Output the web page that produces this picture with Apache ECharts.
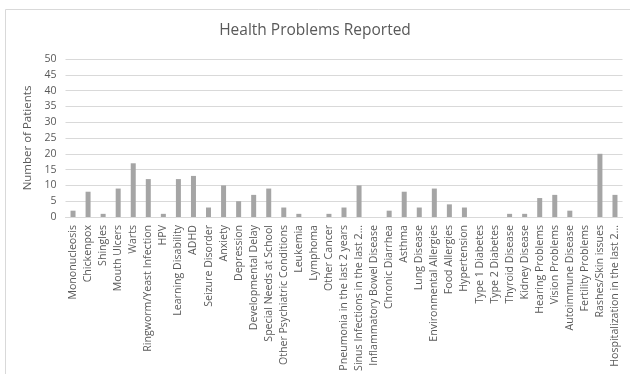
<!DOCTYPE html>
<html>
<head>
<meta charset="utf-8">
<script src="https://cdn.jsdelivr.net/npm/echarts@6/dist/echarts.min.js"></script>
<style>
html,body{margin:0;padding:0;background:#fff;}
#chart{width:630px;height:374px;}
</style>
</head>
<body>
<div id="chart"></div>
<script>
// Reported health problems and patient counts
const categories = [
  'Mononucleosis', 'Chickenpox', 'Shingles', 'Mouth Ulcers', 'Warts',
  'Ringworm/Yeast Infection', 'HPV', 'Learning Disability', 'ADHD',
  'Seizure Disorder', 'Anxiety', 'Depression', 'Developmental Delay',
  'Special Needs at School', 'Other Psychiatric Conditions', 'Leukemia',
  'Lymphoma', 'Other Cancer', 'Pneumonia in the last 2 years',
  'Sinus Infections in the last 2...', 'Inflammatory Bowel Disease',
  'Chronic Diarrhea', 'Asthma', 'Lung Disease', 'Environmental Allergies',
  'Food Allergies', 'Hypertension', 'Type 1 Diabetes', 'Type 2 Diabetes',
  'Thyroid Disease', 'Kidney Disease', 'Hearing Problems', 'Vision Problems',
  'Autoimmune Disease', 'Fertility Problems', 'Rashes/Skin issues',
  'Hospitalization in the last 2...'
];
const patients = [
  2, 8, 1, 9, 17,
  12, 1, 12, 13,
  3, 10, 5, 7,
  9, 3, 1,
  0, 1, 3,
  10, 0,
  2, 8, 3, 9,
  4, 3, 0, 0,
  1, 1, 6, 7,
  2, 0, 20,
  7
];
const yTicks = { min: 0, max: 50, step: 5 };

const chart = echarts.init(document.getElementById('chart'), null, { renderer: 'canvas' });
const textColor = '#595959';
const font = '"Open Sans", "Liberation Sans", sans-serif';

chart.setOption({
  animation: false,
  backgroundColor: '#ffffff',
  graphic: [{
    type: 'rect',
    shape: { x: 5.5, y: 9.5, width: 700, height: 500 },
    style: { fill: 'none', stroke: '#d9d9d9', lineWidth: 1 },
    silent: true
  }],
  title: {
    text: 'Health Problems Reported',
    left: 'center',
    top: 18,
    textStyle: { color: textColor, fontSize: 15.5, fontWeight: 'normal', fontFamily: font }
  },
  grid: { left: 65.5, right: 7.5, top: 59, bottom: 157, containLabel: false },
  xAxis: {
    type: 'category',
    data: categories,
    axisLine: { lineStyle: { color: '#d9d9d9' } },
    axisTick: { show: false },
    axisLabel: {
      interval: 0, rotate: 90, color: textColor, fontSize: 10.6, fontFamily: font, margin: 8
    }
  },
  yAxis: {
    type: 'value',
    min: yTicks.min,
    max: yTicks.max,
    interval: yTicks.step,
    name: 'Number of Patients',
    nameLocation: 'middle',
    nameGap: 18,
    nameTextStyle: { color: textColor, fontSize: 11.5, fontFamily: font },
    axisLine: { show: false },
    axisTick: { show: false },
    axisLabel: { color: textColor, fontSize: 10.5, fontFamily: font, margin: 9 },
    splitLine: { lineStyle: { color: '#d9d9d9' } }
  },
  series: [{
    type: 'bar',
    data: patients,
    barWidth: 5,
    itemStyle: { color: '#a5a5a5' }
  }]
});
</script>
</body>
</html>
